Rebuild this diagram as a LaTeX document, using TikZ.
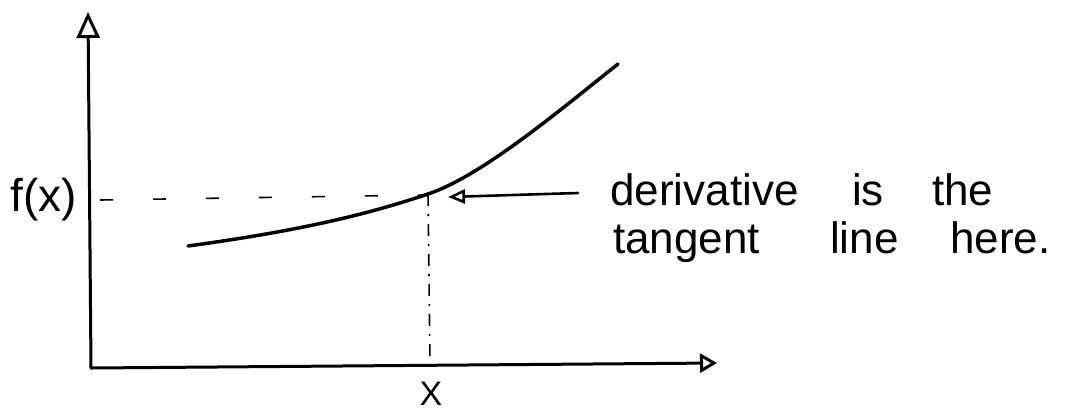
\documentclass[tikz,border=0pt]{standalone}
\usepackage{fontspec}
\setmainfont{Liberation Sans}
\usetikzlibrary{arrows.meta}
\tikzset{
  axis/.style={line width=3pt, line cap=round},
  curvestyle/.style={line width=3.5pt, line cap=round},
  guide/.style={line width=1.6pt, dash pattern=on 13pt off 40pt},
  guidev/.style={line width=1.6pt, dash pattern=on 12pt off 8pt on 2pt off 8pt},
  pointer/.style={line width=2.6pt, line cap=round},
  word/.style={anchor=base west, inner sep=0pt, font=\fontsize{44}{50}\selectfont},
}
\begin{document}
\begin{tikzpicture}[x=1pt,y=-1pt]
\useasboundingbox (0,0) rectangle (1073,413);
% axes
\coordinate (O) at (91,368);
\coordinate (ytip) at (88,12);
\coordinate (xtip) at (717,363);
\draw[axis, -{Triangle[open,length=26pt,width=23pt,line width=3pt]}] (O) -- (ytip);
\draw[axis, -{Triangle[open,length=17pt,width=19pt,line width=3pt]}] (O) -- (xtip);
% curve
\coordinate (c0) at (188,246);
\coordinate (P) at (428,194);
\coordinate (c1) at (618,64);
\draw[curvestyle] (c0) .. controls (290,232) and (360,217) .. (P)
  .. controls (482,176) and (560,110) .. (c1);
% guides
\coordinate (fy) at (100,200);
\coordinate (fxend) at (425,195);
\coordinate (xb) at (430,363);
\draw[guide] (fy) -- (fxend);
\draw[guidev] (P) -- (xb);
% labels
\node[inner sep=0pt, font=\fontsize{46}{50}\selectfont] (flab) at (44,200) {f(x)};
\node[inner sep=0pt, font=\fontsize{34}{40}\selectfont] (xlab) at (431,394) {X};
% pointer
\coordinate (atail) at (578,193);
\coordinate (ahead) at (448,197);
\draw[pointer, -{Triangle[open,length=17pt,width=14pt,line width=2.6pt]}] (atail) -- (ahead);
% text
\node[word] (w1) at (610,205) {derivative};
\node[word] (w2) at (852,205) {is};
\node[word] (w3) at (932,205) {the};
\node[word] (w4) at (613,253) {tangent};
\node[word] (w5) at (830,253) {line};
\node[word] (w6) at (950,253) {here.};
\end{tikzpicture}
\end{document}
